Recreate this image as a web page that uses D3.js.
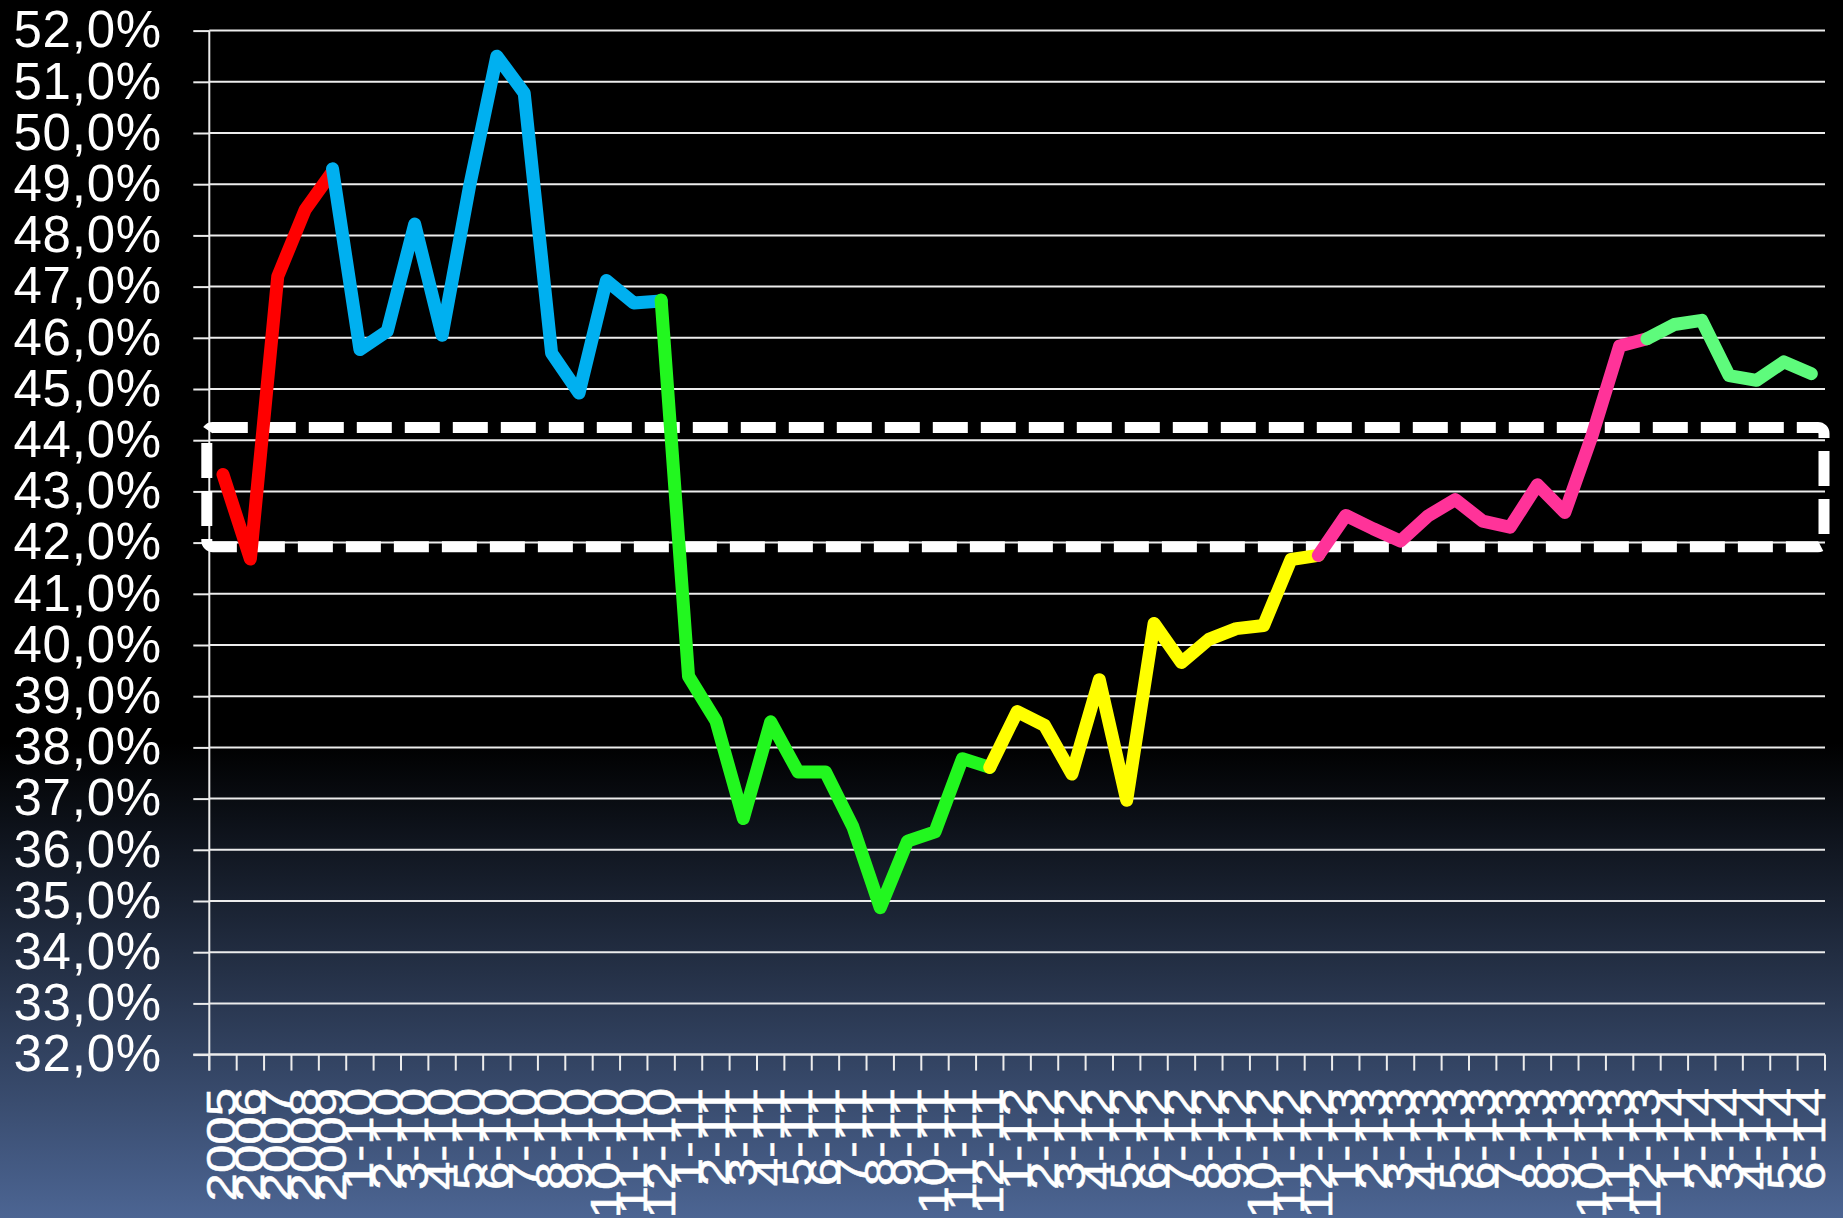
<!DOCTYPE html>
<html><head><meta charset="utf-8">
<script src="https://cdn.jsdelivr.net/npm/d3@7"></script>
<style>html,body{margin:0;padding:0;background:#000;overflow:hidden}svg{display:block}</style>
</head><body><svg id="chart" width="1843" height="1218"></svg>
<script>
// ---------- data ----------
const categories = [
  "2005","2006","2007","2008","2009",
  "1-10","2-10","3-10","4-10","5-10","6-10","7-10","8-10","9-10","10-10","11-10","12-10",
  "1-11","2-11","3-11","4-11","5-11","6-11","7-11","8-11","9-11","10-11","11-11","12-11",
  "1-12","2-12","3-12","4-12","5-12","6-12","7-12","8-12","9-12","10-12","11-12","12-12",
  "1-13","2-13","3-13","4-13","5-13","6-13","7-13","8-13","9-13","10-13","11-13","12-13",
  "1-14","2-14","3-14","4-14","5-14","6-14"
];
const yTicks = [32,33,34,35,36,37,38,39,40,41,42,43,44,45,46,47,48,49,50,51,52];

const redStart = "2005";
const redValues = [43.33, 41.68, 47.2, 48.5, 49.25];
const blueStart = "2009";
const blueValues = [49.3, 45.77, 46.13, 48.22, 46.05, 48.95, 51.5, 50.78, 45.7, 44.92, 47.12, 46.68, 46.72];
const greenStart = "12-10";
const greenValues = [46.74, 39.39, 38.52, 36.61, 38.5, 37.52, 37.52, 36.45, 34.87, 36.17, 36.35, 37.78, 37.61];
const yellowStart = "12-11";
const yellowValues = [37.61, 38.7, 38.43, 37.48, 39.32, 36.97, 40.42, 39.66, 40.11, 40.32, 40.38, 41.67, 41.75];
const pinkStart = "12-12";
const pinkValues = [41.75, 42.53, 42.27, 42.03, 42.52, 42.84, 42.42, 42.3, 43.13, 42.59, 44.1, 45.84, 45.98];
const lightGreenStart = "12-13";
const lightGreenValues = [45.98, 46.26, 46.34, 45.26, 45.17, 45.53, 45.3];

const bandRange = [41.92, 44.25];

// ---------- chart ----------
const W = 1843, H = 1218;
const plotLeft = 209.3, plotRight = 1825, plotTop = 30.6, plotBottom = 1054.6;
const svg = d3.select('#chart');
const defs = svg.append('defs');
const grad = defs.append('linearGradient').attr('id','bg').attr('x1',0).attr('y1',0).attr('x2',0).attr('y2',1);
grad.append('stop').attr('offset','0%').attr('stop-color','#000');
grad.append('stop').attr('offset','61%').attr('stop-color','#000');
grad.append('stop').attr('offset','100%').attr('stop-color','#4c6593');
svg.append('rect').attr('width',W).attr('height',H).attr('fill','url(#bg)');

const x = d3.scaleBand().domain(categories).range([plotLeft, plotRight]);
const y = d3.scaleLinear().domain([32,52]).range([plotBottom, plotTop]);
const cx = c => x(c) + x.bandwidth()/2;
const lineColor = '#ececec';

// gridlines
svg.append('g').selectAll('line').data(yTicks).join('line')
  .attr('x1', plotLeft).attr('x2', plotRight)
  .attr('y1', d => y(d)).attr('y2', d => y(d))
  .attr('stroke', lineColor).attr('stroke-width', 2);

// y axis
const yAxis = d3.axisLeft(y).tickValues(yTicks).tickSize(16).tickPadding(31.3)
  .tickFormat(d => d3.format('.1f')(d).replace('.', ',') + '%');
const gy = svg.append('g').attr('transform', `translate(${plotLeft},0)`).call(yAxis);
gy.select('.domain').remove();
gy.selectAll('.tick line').attr('stroke', lineColor).attr('stroke-width', 2);
gy.selectAll('.tick text').attr('fill', '#fff')
  .attr('font-family', '"Liberation Sans", Arial, sans-serif')
  .attr('font-size', 51).attr('letter-spacing', '0.8px');

// axis lines
svg.append('line').attr('x1', plotLeft).attr('x2', plotLeft)
  .attr('y1', y(52)).attr('y2', y(32) + 16).attr('stroke', lineColor).attr('stroke-width', 2);
svg.append('line').attr('x1', plotLeft - 16).attr('x2', plotRight)
  .attr('y1', y(32)).attr('y2', y(32)).attr('stroke', lineColor).attr('stroke-width', 2);

// x ticks at category boundaries
const bounds = categories.map(c => x(c)).concat([x.range()[1]]);
svg.append('g').selectAll('line').data(bounds).join('line')
  .attr('x1', d => d).attr('x2', d => d)
  .attr('y1', y(32)).attr('y2', y(32) + 16)
  .attr('stroke', lineColor).attr('stroke-width', 2);

// x labels
svg.append('g').selectAll('text').data(categories).join('text')
  .attr('transform', c => `translate(${cx(c)},1088) rotate(-90) scale(1,0.84)`)
  .attr('text-anchor', 'end').attr('dy', 16)
  .attr('font-family', '"Liberation Sans", Arial, sans-serif')
  .attr('font-size', 51).attr('fill', '#fff')
  .attr('stroke', '#fff').attr('stroke-width', 0.6)
  .text(c => c);

// dashed band rectangle
svg.append('rect')
  .attr('x', plotLeft - 2.5).attr('y', y(bandRange[1]))
  .attr('width', (plotRight - 1) - (plotLeft - 2.5))
  .attr('height', y(bandRange[0]) - y(bandRange[1]))
  .attr('rx', 6).attr('fill', 'none').attr('stroke', '#fff')
  .attr('stroke-width', 11).attr('stroke-dasharray', '35 13');

// series
const seriesList = [
  {start: redStart, values: redValues, color: '#ff0000'},
  {start: blueStart, values: blueValues, color: '#00b0f0'},
  {start: greenStart, values: greenValues, color: '#22f71f'},
  {start: yellowStart, values: yellowValues, color: '#ffff00'},
  {start: pinkStart, values: pinkValues, color: '#ff3399'},
  {start: lightGreenStart, values: lightGreenValues, color: '#5efb7c'}
];
const line = d3.line().x(d => cx(d.c)).y(d => y(d.v));
seriesList.forEach(s => {
  const i0 = categories.indexOf(s.start);
  const pts = s.values.map((v, i) => ({c: categories[i0 + i], v}));
  svg.append('path').datum(pts).attr('d', line)
    .attr('fill', 'none').attr('stroke', s.color).attr('stroke-width', 13)
    .attr('stroke-linejoin', 'round').attr('stroke-linecap', 'round');
});
</script>
</body></html>
